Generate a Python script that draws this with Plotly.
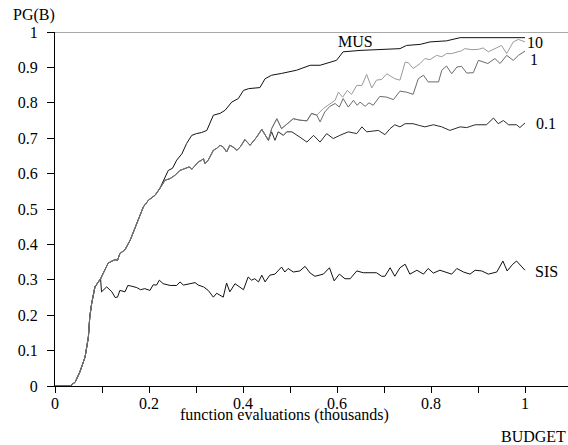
import plotly.graph_objects as go

# ---- data ----
# shared initial ramp (all five curves)
ramp_x = [0.0, 0.032, 0.043, 0.053, 0.064, 0.071, 0.074, 0.078, 0.085, 0.091, 0.097]
ramp_y = [0.0, 0.0, 0.011, 0.040, 0.082, 0.138, 0.195, 0.233, 0.280, 0.292, 0.303]

# shared climb (MUS, 0.1, 1, 10)
climb_x = [0.105, 0.113, 0.120, 0.128, 0.133, 0.138, 0.149, 0.160, 0.174, 0.188, 0.199, 0.206, 0.213, 0.223]
climb_y = [0.325, 0.347, 0.352, 0.357, 0.355, 0.374, 0.385, 0.412, 0.459, 0.506, 0.525, 0.532, 0.539, 0.558]

mus_x = [0.232, 0.241, 0.250, 0.259, 0.270, 0.280, 0.291, 0.301, 0.312, 0.323, 0.337, 0.351, 0.362,
         0.376, 0.390, 0.401, 0.412, 0.436, 0.447, 0.461, 0.482, 0.514, 0.543, 0.564, 0.599, 0.613,
         0.649, 0.699, 0.734, 0.748, 0.777, 0.798, 0.833, 0.862, 1.0]
mus_y = [0.585, 0.609, 0.615, 0.638, 0.656, 0.685, 0.708, 0.713, 0.716, 0.722, 0.765, 0.770, 0.779,
         0.802, 0.812, 0.835, 0.840, 0.843, 0.868, 0.878, 0.883, 0.892, 0.906, 0.906, 0.920, 0.944,
         0.948, 0.951, 0.953, 0.962, 0.965, 0.972, 0.975, 0.984, 0.984]

# shared part of the 0.1 / 1 / 10 curves
up_x = [0.234, 0.245, 0.255, 0.266, 0.277, 0.286, 0.291, 0.298, 0.305, 0.312, 0.316, 0.319, 0.326,
        0.337, 0.345, 0.351, 0.358, 0.365, 0.372, 0.379, 0.387, 0.394, 0.404, 0.415, 0.422, 0.429,
        0.440, 0.447, 0.454]
up_y = [0.581, 0.586, 0.595, 0.609, 0.614, 0.619, 0.612, 0.623, 0.633, 0.638, 0.642, 0.628, 0.638,
        0.666, 0.672, 0.680, 0.675, 0.661, 0.680, 0.675, 0.666, 0.675, 0.696, 0.680, 0.690, 0.703,
        0.725, 0.708, 0.694]

p1_x = [0.461, 0.468, 0.475, 0.486, 0.493, 0.504, 0.521, 0.536, 0.550, 0.564, 0.578, 0.592, 0.606,
        0.624, 0.642, 0.653, 0.663, 0.677, 0.688, 0.702, 0.713, 0.723, 0.734, 0.745, 0.762, 0.775,
        0.787, 0.805, 0.823, 0.840, 0.862, 0.876, 0.894, 0.918, 0.933, 0.943, 0.954, 0.965, 0.982,
        0.989, 1.0]
p1_y = [0.718, 0.694, 0.718, 0.708, 0.718, 0.718, 0.703, 0.689, 0.708, 0.689, 0.713, 0.699, 0.708,
        0.718, 0.713, 0.732, 0.718, 0.720, 0.722, 0.710, 0.727, 0.738, 0.732, 0.741, 0.741, 0.736,
        0.732, 0.738, 0.732, 0.722, 0.732, 0.730, 0.738, 0.738, 0.757, 0.741, 0.750, 0.738, 0.738,
        0.730, 0.743]

# shared part of 1 / 10
q_x = [0.461, 0.472, 0.482, 0.493, 0.507, 0.521, 0.536, 0.546, 0.557]
q_y = [0.727, 0.755, 0.727, 0.739, 0.755, 0.751, 0.749, 0.770, 0.765]

one_x = [0.564, 0.574, 0.585, 0.596, 0.605, 0.613, 0.624, 0.635, 0.643, 0.649, 0.660, 0.668, 0.677,
         0.691, 0.706, 0.720, 0.734, 0.748, 0.762, 0.773, 0.784, 0.794, 0.816, 0.823, 0.833, 0.844,
         0.855, 0.865, 0.876, 0.890, 0.901, 0.911, 0.921, 0.936, 0.947, 0.961, 0.975, 0.986, 1.0]
one_y = [0.746, 0.774, 0.790, 0.798, 0.788, 0.812, 0.788, 0.807, 0.793, 0.802, 0.790, 0.800, 0.793,
         0.818, 0.816, 0.809, 0.833, 0.830, 0.824, 0.868, 0.878, 0.859, 0.859, 0.892, 0.904, 0.882,
         0.901, 0.903, 0.884, 0.885, 0.920, 0.915, 0.911, 0.925, 0.911, 0.934, 0.920, 0.934, 0.946]

ten_x = [0.571, 0.585, 0.596, 0.603, 0.612, 0.622, 0.631, 0.642, 0.653, 0.663, 0.674, 0.684, 0.695,
         0.706, 0.723, 0.734, 0.745, 0.752, 0.762, 0.777, 0.787, 0.798, 0.812, 0.823, 0.833, 0.844,
         0.855, 0.865, 0.872, 0.887, 0.901, 0.911, 0.922, 0.936, 0.950, 0.961, 0.975, 0.986, 1.0]
ten_y = [0.784, 0.798, 0.807, 0.830, 0.816, 0.835, 0.824, 0.849, 0.849, 0.880, 0.842, 0.864, 0.866,
         0.882, 0.868, 0.864, 0.915, 0.913, 0.897, 0.911, 0.925, 0.922, 0.934, 0.930, 0.939, 0.939,
         0.944, 0.947, 0.953, 0.950, 0.951, 0.955, 0.944, 0.953, 0.962, 0.939, 0.972, 0.979, 0.972]

sis_x = [0.099, 0.110, 0.121, 0.128, 0.133, 0.138, 0.149, 0.155, 0.163, 0.174, 0.182, 0.191, 0.202,
         0.209, 0.216, 0.222, 0.230, 0.245, 0.259, 0.266, 0.273, 0.284, 0.298, 0.305, 0.316, 0.326,
         0.337, 0.344, 0.351, 0.358, 0.365, 0.372, 0.383, 0.401, 0.411, 0.418, 0.425, 0.433, 0.440,
         0.447, 0.457, 0.468, 0.482, 0.489, 0.496, 0.507, 0.521, 0.532, 0.543, 0.553, 0.571, 0.584,
         0.594, 0.605, 0.617, 0.628, 0.642, 0.656, 0.684, 0.695, 0.702, 0.713, 0.723, 0.734, 0.745,
         0.755, 0.770, 0.784, 0.794, 0.805, 0.819, 0.830, 0.844, 0.855, 0.869, 0.883, 0.894, 0.908,
         0.922, 0.940, 0.953, 0.962, 0.974, 0.982, 0.989, 1.0]
sis_y = [0.266, 0.280, 0.266, 0.250, 0.251, 0.270, 0.266, 0.284, 0.282, 0.278, 0.272, 0.275, 0.270,
         0.286, 0.285, 0.299, 0.289, 0.284, 0.284, 0.294, 0.285, 0.289, 0.292, 0.285, 0.280, 0.270,
         0.251, 0.262, 0.256, 0.251, 0.291, 0.266, 0.289, 0.272, 0.308, 0.299, 0.303, 0.294, 0.313,
         0.294, 0.313, 0.316, 0.336, 0.322, 0.332, 0.322, 0.325, 0.338, 0.319, 0.310, 0.316, 0.334,
         0.297, 0.316, 0.303, 0.303, 0.325, 0.320, 0.320, 0.310, 0.310, 0.334, 0.310, 0.334, 0.344,
         0.316, 0.327, 0.316, 0.332, 0.319, 0.327, 0.322, 0.316, 0.332, 0.322, 0.316, 0.327, 0.325,
         0.316, 0.322, 0.353, 0.325, 0.344, 0.353, 0.344, 0.327]

x_ticks = [0, 0.1, 0.2, 0.3, 0.4, 0.5, 0.6, 0.7, 0.8, 0.9, 1.0]
x_tick_text = ["0", "", "0.2", "", "0.4", "", "0.6", "", "0.8", "", "1"]
y_ticks = [0, 0.1, 0.2, 0.3, 0.4, 0.5, 0.6, 0.7, 0.8, 0.9, 1.0]
y_tick_text = ["0", "0.1", "0.2", "0.3", "0.4", "0.5", "0.6", "0.7", "0.8", "0.9", "1"]

# ---- build series ----
series = [
    ("MUS", ramp_x + climb_x + mus_x, ramp_y + climb_y + mus_y, "#111111", 0.640, 0.972, "center"),
    ("SIS", ramp_x + sis_x, ramp_y + sis_y, "#111111", 1.017, 0.324, "left"),
    ("0.1", ramp_x + climb_x + up_x + p1_x, ramp_y + climb_y + up_y + p1_y, "#2a2a2a", 1.019, 0.742, "left"),
    ("10", ramp_x + climb_x + up_x + q_x + ten_x, ramp_y + climb_y + up_y + q_y + ten_y, "#9a9a9a", 0.999, 0.970, "left"),
    ("1", ramp_x + climb_x + up_x + q_x + one_x, ramp_y + climb_y + up_y + q_y + one_y, "#6a6a6a", 1.007, 0.922, "left"),
]

FONT = "Liberation Serif, Times New Roman, serif"
FS = 16
fig = go.Figure()
for name, xs, ys, col, lx, ly, anc in series:
    fig.add_trace(go.Scatter(x=xs, y=ys, mode="lines", name=name,
                             line=dict(color=col, width=1), hoverinfo="skip"))
    fig.add_annotation(x=lx, y=ly, xref="x", yref="y", text=name, showarrow=False,
                       xanchor=anc, yanchor="middle", font=dict(family=FONT, size=FS, color="black"))

fig.add_shape(type="line", xref="paper", yref="y", x0=0, x1=1, y0=1, y1=1,
              line=dict(color="#555555", width=1))

fig.add_annotation(x=-0.086, y=1.049, xref="paper", yref="paper", text="PG(B)", showarrow=False,
                   xanchor="left", yanchor="middle", font=dict(family=FONT, size=FS, color="black"))
fig.add_annotation(x=0.448, y=-0.082, xref="paper", yref="paper",
                   text="function evaluations (thousands)", showarrow=False,
                   xanchor="center", yanchor="middle", font=dict(family=FONT, size=FS, color="black"))
fig.add_annotation(x=1.0, y=-0.142, xref="paper", yref="paper", text="BUDGET", showarrow=False,
                   xanchor="right", yanchor="middle", font=dict(family=FONT, size=FS, color="black"))

fig.update_layout(
    width=568, height=445,
    margin=dict(l=55, r=0, t=32, b=59),
    paper_bgcolor="white", plot_bgcolor="white",
    showlegend=False,
    font=dict(family=FONT, size=FS, color="black"),
    xaxis=dict(range=[0, 1.0915], tickvals=x_ticks, ticktext=x_tick_text,
               showgrid=False, zeroline=False, showline=True, linecolor="black", linewidth=1,
               ticks="outside", ticklen=6, tickcolor="black", tickwidth=1, ticklabelstandoff=-3,
               tickfont=dict(family=FONT, size=FS, color="black")),
    yaxis=dict(range=[0, 1], tickvals=y_ticks, ticktext=y_tick_text,
               showgrid=False, zeroline=False, showline=True, linecolor="black", linewidth=1,
               ticks="outside", ticklen=7, tickcolor="black", tickwidth=1, ticklabelstandoff=6,
               tickfont=dict(family=FONT, size=FS, color="black")),
)

fig.write_html("out.html", config={"displayModeBar": False},
               post_script="document.body.style.margin='0';document.body.style.overflow='hidden';")
